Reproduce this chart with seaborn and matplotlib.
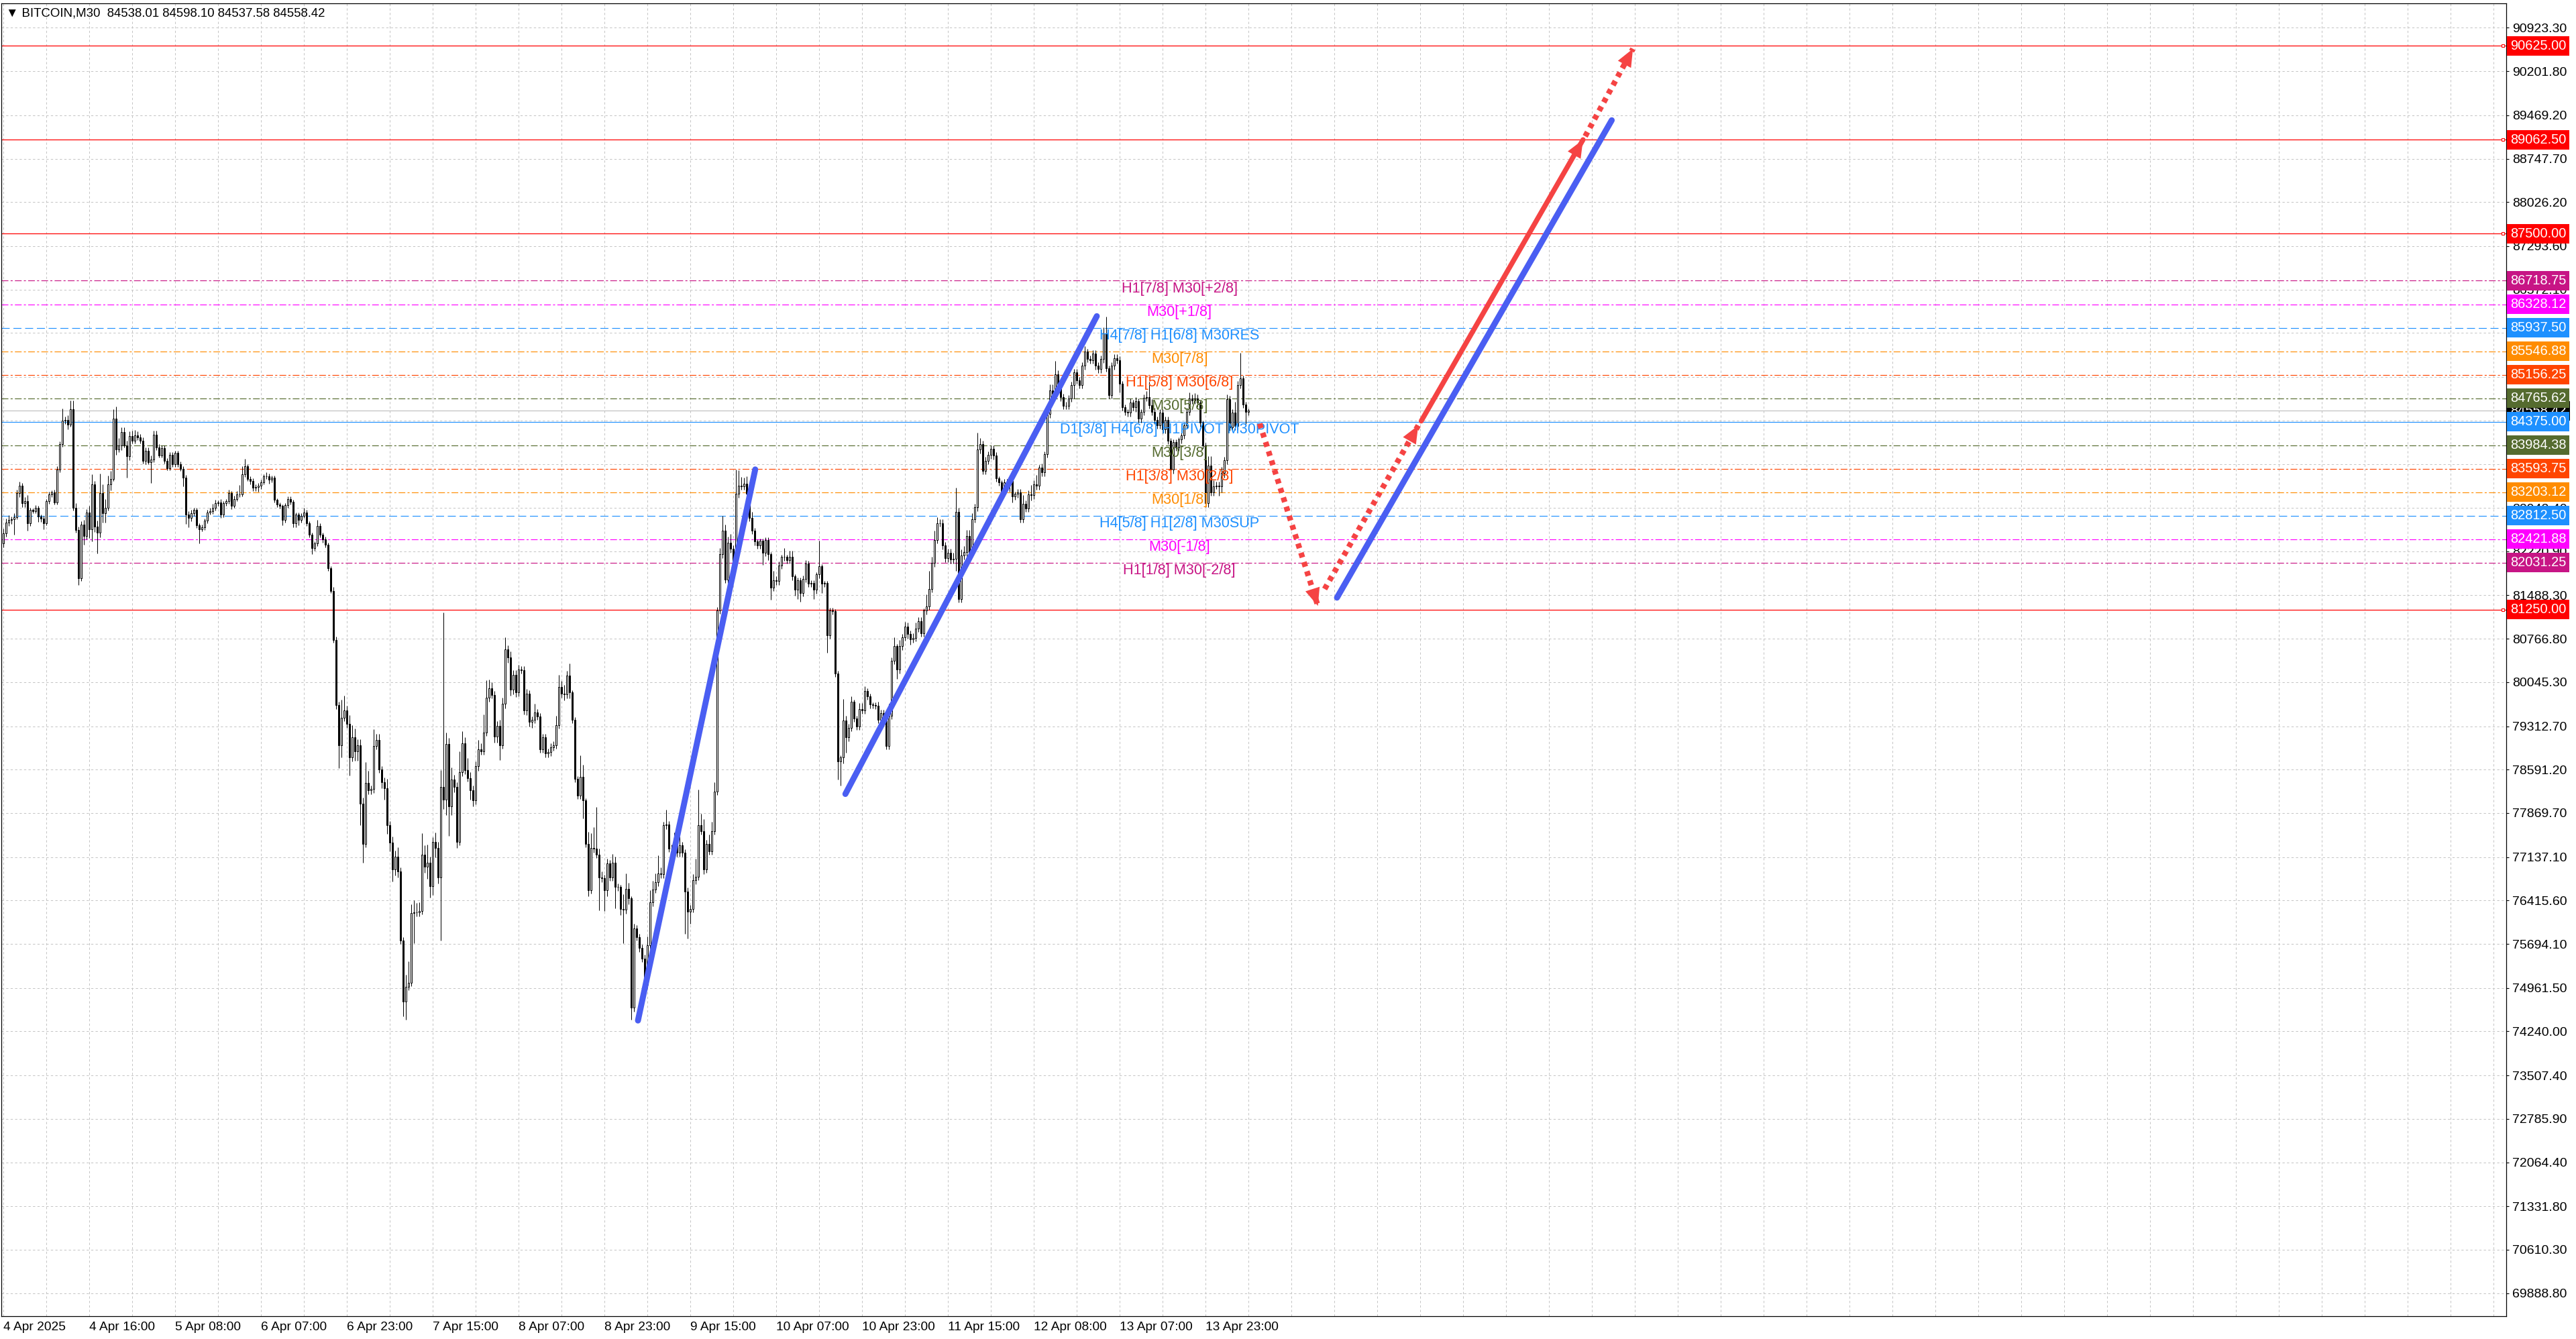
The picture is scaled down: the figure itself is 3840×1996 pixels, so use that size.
import numpy as np
import pandas as pd
import matplotlib
matplotlib.use("Agg")
import matplotlib.pyplot as plt
import matplotlib.transforms as mtransforms
import seaborn as sns

# ---- data ----
header = "\u25bc BITCOIN,M30  84538.01 84598.10 84537.58 84558.42"

first_open = 82350
closes = [
    82520, 82700, 82740, 82750, 82790, 83185, 83315, 83017, 83060, 82682,
    82906, 82890, 82943, 82794, 82770, 82690, 83054, 83166, 83200, 83036,
    83575, 84003, 84393, 84400, 84330, 84580, 82943, 82571, 81771, 82664,
    82478, 82861, 82589, 83333, 82627, 82533, 83185, 82850, 82943, 83333,
    83426, 84431, 83910, 83984, 84207, 83984, 83798, 84133, 84059, 84152,
    84115, 84059, 83724, 83891, 83705, 83743, 84163, 83947, 83817, 83940,
    83724, 83605, 83828, 83668, 83854, 83668, 83593, 83445, 82831, 82775,
    82850, 82906, 82652, 82589, 82620, 82727, 82868, 82885, 82943, 83017,
    83030, 82831, 83017, 83054, 83185, 82980, 83092, 83166, 83170, 83500,
    83631, 83426, 83389, 83277, 83290, 83315, 83371, 83463, 83470, 83410,
    83440, 83073, 82999, 82973, 82738, 82987, 83092, 83040, 82682, 82831,
    82738, 82812, 82868, 82682, 82496, 82273, 82348, 82645, 82496, 82420,
    82329, 81938, 81566, 80746, 79663, 78999, 79453, 79572, 79348, 78790,
    79125, 78894, 78999, 78021, 77357, 78371, 78245, 78266, 78985, 79083,
    78594, 78384, 78287, 77672, 77378, 76937, 77147, 76903, 75750, 74738,
    74982, 75052, 76205, 76220, 76215, 76240, 77183, 76973, 77043, 76659,
    77393, 77288, 76799, 78301, 78091, 79013, 77986, 78427, 78300, 77393,
    78545, 79034, 78580, 78454, 78245, 78077, 78650, 78930, 78900, 79209,
    79782, 79942, 79837, 79139, 79314, 78999, 79684, 80592, 80452, 79922,
    80166, 79873, 80257, 80250, 79572, 79852, 79384, 79419, 79537, 79474,
    78930, 79125, 78860, 78880, 78965, 79000, 79335, 79963, 79852, 79840,
    80152, 79873, 79419, 78440, 78161, 78475, 78077, 77357, 76589, 77288,
    77274, 77183, 76799, 76785, 76589, 77029, 76799, 77043, 76638, 76640,
    76275, 76260, 76610, 76450, 74633, 75950, 75806, 75623, 75452, 75014,
    75672, 76384, 76597, 76718, 76871, 76850, 77663, 77680, 77279, 77280,
    77450, 77206, 77330, 77206, 76567, 76232, 76280, 76750, 76810, 77663,
    77571, 76932, 77358, 77236, 77571, 78229, 81238, 82170, 82565, 81755,
    82364, 82260, 82047, 83174, 83308, 83300, 83345, 83174, 82779, 82565,
    82383, 82322, 82395, 82200, 82413, 82169, 81621, 81743, 81725, 81987,
    82127, 82127, 82078, 82127, 81804, 81579, 81743, 81530, 81761, 82017,
    81682, 81694, 81579, 81834, 81969, 81682, 81690, 80830, 81238, 81225,
    80190, 78729, 78790, 79411, 79124, 79289, 79715, 79447, 79307, 79593,
    79580, 79898, 79812, 79672, 79670, 79655, 79422, 79530, 79433, 78990,
    79488, 80402, 80641, 80252, 80641, 80790, 80973, 80846, 80763, 80780,
    80940, 81062, 80862, 81233, 81305, 81593, 82026, 82413, 82690, 82690,
    82314, 82103, 82200, 82081, 82092, 82879, 81427, 82147, 82203, 82480,
    82175, 82757, 82951, 83909, 84003, 83560, 83726, 83820, 83920, 83809,
    83433, 83366, 83189, 83366, 83310, 83400, 83134, 83173, 83200, 82757,
    83006, 82934, 83172, 83150, 83339, 83310, 83616, 83532, 83837, 84502,
    84890, 84835, 85167, 85001, 84779, 84640, 84640, 84762, 84984, 85193,
    85063, 84989, 85305, 85547, 85420, 85398, 85509, 85305, 85249, 85417,
    85844, 85268, 84821, 85305, 85435, 85400, 85007, 84617, 84542, 84524,
    84698, 84617, 84721, 84423, 84542, 84773, 84785, 84650, 84542, 84400,
    84319, 84524, 84245, 84400, 84059, 83575, 84040, 83947, 84077, 84150,
    84319, 84542, 84765, 84728, 84765, 84691, 84356, 83984, 83017, 83650,
    83200, 83296, 83315, 83296, 83520, 83731, 84747, 84282, 84524, 84300,
    84989, 85101, 84662, 84543, 84558,
]

# upper / lower shadow lengths (USD) per candle
wick_up = [
    80, 60, 80, 50, 60, 60, 60, 40, 60, 100,
    40, 30, 40, 30, 40, 40, 40, 40, 30, 40,
    60, 40, 200, 60, 80, 150, 150, 80, 60, 60,
    80, 60, 120, 170, 60, 100, 330, 150, 150, 150,
    130, 150, 200, 120, 80, 80, 80, 80, 90, 80,
    60, 60, 60, 60, 60, 70, 60, 60, 60, 40,
    40, 40, 40, 40, 40, 40, 40, 40, 40, 60,
    60, 40, 40, 40, 40, 40, 40, 60, 70, 60,
    40, 60, 40, 40, 60, 40, 50, 60, 150, 130,
    130, 40, 40, 40, 40, 40, 40, 40, 60, 40,
    40, 40, 30, 30, 30, 40, 40, 40, 40, 40,
    40, 40, 80, 40, 40, 40, 40, 100, 40, 40,
    40, 40, 40,
    60, 60, 60, 300, 250, 80, 150, 200, 150, 100,
    100, 100, 350, 200, 60, 280, 100, 100, 60, 80,
    150, 60, 100, 100, 150, 60, 60, 200, 350, 150,
    200, 150, 150, 350, 150, 300, 100, 80, 150, 100,
    280, 2900, 200, 100, 200, 80, 80, 350, 200, 100,
    200, 100, 80, 80, 150, 100, 300, 300, 150, 100,
    60, 80, 100, 100, 200, 60, 100, 80, 80, 80,
    50, 60, 80, 60, 60, 150, 60, 60, 60, 60,
    60, 60, 60, 150, 200, 100, 150, 80, 200, 40,
    40, 40, 350, 200, 40, 200, 250, 350, 700, 100,
    100, 60, 80, 60, 150, 100, 60, 40, 250, 250,
    100, 40,
    80, 60, 60, 60, 60, 150, 200, 150, 150, 300,
    100, 60, 250, 60, 60, 100, 80, 150, 60, 60,
    60, 60, 100, 300, 600, 200, 200, 60, 150, 150,
    150, 60, 100, 250, 100, 100, 150, 60, 400, 260,
    150, 100, 120, 100, 100, 40, 40, 40, 40, 40,
    40, 40, 150, 60, 60, 40, 150, 40, 100, 100,
    40, 40, 40, 60, 60, 40, 40, 40, 40, 425,
    40, 40, 40, 40, 40, 40, 40, 40, 350, 80,
    60, 100, 40, 40, 100, 100, 80, 40, 40,
    40, 40, 60, 60, 60, 40, 200, 60, 150, 40,
    100, 60, 80, 60, 60, 80, 100, 60, 60, 40,
    200, 300, 100, 150, 100, 60, 60, 60, 60, 60,
    100, 400, 60, 100, 100, 100, 100, 100, 60, 280,
    100, 60, 60, 60, 60, 60, 60, 40, 40, 60,
    60, 60, 40, 40, 60, 60, 150, 60, 60, 150,
    60, 150, 40, 60, 40, 40, 100, 100, 220, 60,
    100, 60, 60, 60, 60,
    60, 60, 60, 60, 80, 40, 60, 60, 60, 60,
    60, 100, 280, 40, 60, 60, 60, 60, 40, 40,
    40, 60, 40, 60, 40, 40, 60, 100, 250, 100,
    60, 60, 60, 60, 60, 60, 40, 40, 40, 40,
    150, 40, 60, 100, 60, 80, 60, 40, 40, 40,
    150, 150, 100, 60, 60, 100, 60, 80, 60, 60,
    180, 60, 415, 40, 40, 40,
]
wick_dn = [
    60, 60, 60, 60, 250, 40, 60, 60, 60, 120,
    40, 40, 40, 80, 60, 100, 40, 40, 40, 40,
    40, 40, 40, 60, 80, 40, 40, 40, 110, 40,
    150, 60, 150, 200, 80, 350, 80, 150, 150, 40,
    100, 40, 80, 40, 80, 40, 350, 60, 40, 40,
    40, 40, 40, 60, 40, 350, 40, 40, 40, 40,
    40, 40, 40, 40, 40, 40, 40, 150, 150, 150,
    60, 40, 40, 240, 40, 40, 40, 40, 40, 40,
    40, 60, 40, 40, 40, 60, 40, 40, 40, 40,
    40, 40, 60, 60, 60, 80, 60, 40, 40, 60,
    40, 40, 40, 40, 80, 40, 40, 40, 60, 60,
    80, 40, 40, 40, 40, 100, 40, 40, 40, 60,
    40, 40, 40,
    40, 60, 380, 200, 60, 60, 300, 60, 150, 150,
    350, 310, 60, 60, 60, 60, 60, 60, 100, 200,
    150, 150, 200, 100, 100, 60, 245, 300, 60, 60,
    500, 60, 60, 60, 100, 200, 200, 150, 150, 100,
    1050, 150, 250, 500, 150, 80, 100, 60, 60, 60,
    60, 150, 100, 60, 80, 60, 60, 60, 60, 60,
    100, 100, 250, 60, 80, 80, 100, 80, 80, 60,
    60, 60, 80, 80, 100, 60, 60, 60, 60, 60,
    60, 60, 60, 60, 60, 60, 100, 60, 100, 60,
    60, 60, 60, 300, 60, 100, 60, 60, 60, 550,
    60, 350, 100, 60, 60, 350, 60, 100, 550, 60,
    100, 200,
    60, 60, 60, 60, 120, 60, 60, 60, 60, 60,
    60, 60, 60, 60, 60, 60, 60, 60, 60, 700,
    450, 200, 60, 60, 60, 60, 80, 60, 60, 60,
    60, 60, 60, 60, 60, 60, 60, 60, 60, 60,
    60, 60, 60, 60, 60, 60, 60, 60, 200, 60,
    100, 200, 60, 60, 60, 60, 60, 60, 60, 60,
    100, 150, 150, 60, 60, 60, 60, 150, 60, 60,
    150, 60, 300, 60, 60, 60, 300, 400, 100, 250,
    60, 60, 60, 60, 60, 60, 60, 60, 60,
    60, 60, 60, 60, 60, 60, 60, 60, 60, 150,
    60, 60, 60, 80, 100, 60, 60, 60, 60, 60,
    60, 60, 60, 60, 60, 60, 60, 60, 60, 60,
    60, 200, 60, 60, 60, 60, 110, 60, 60, 60,
    60, 60, 60, 60, 60, 60, 60, 60, 60, 60,
    60, 100, 100, 60, 60, 60, 60, 60, 60, 80,
    60, 60, 60, 60, 60, 60, 60, 60, 60, 60,
    60, 60, 60, 60, 60, 220, 60, 60, 60,
    60, 60, 60, 60, 60, 60, 60, 60, 60, 60,
    60, 60, 60, 150, 60, 60, 60, 60, 60, 80,
    60, 60, 60, 60, 60, 60, 60, 60, 60, 60,
    60, 60, 60, 60, 60, 60, 60, 60, 60, 60,
    60, 60, 60, 60, 60, 60, 60, 60, 60, 40,
    150, 100, 80, 60, 60, 60, 60, 60, 60, 60,
    200, 60, 60, 150, 60, 40,
]

x_labels = ["4 Apr 2025", "4 Apr 16:00", "5 Apr 08:00", "6 Apr 07:00", "6 Apr 23:00",
            "7 Apr 15:00", "8 Apr 07:00", "8 Apr 23:00", "9 Apr 15:00", "10 Apr 07:00",
            "10 Apr 23:00", "11 Apr 15:00", "12 Apr 08:00", "13 Apr 07:00", "13 Apr 23:00"]

y_ticks = [90923.30, 90201.80, 89469.20, 88747.70, 88026.20, 87293.60, 86572.10,
           85850.60, 85118.00, 84396.50, 83663.90, 82942.40, 82220.90, 81488.30,
           80766.80, 80045.30, 79312.70, 78591.20, 77869.70, 77137.10, 76415.60,
           75694.10, 74961.50, 74240.00, 73507.40, 72785.90, 72064.40, 71331.80,
           70610.30, 69888.80]
# tick labels that sit completely under a level box in the picture
y_ticks_covered = [85850.60, 85118.00, 84396.50]

# Murrey math levels
level_prices = [86718.75, 86328.12, 85937.50, 85546.88, 85156.25, 84765.62, 84375.00,
                83984.38, 83593.75, 83203.12, 82812.50, 82421.88, 82031.25]
level_names = ["H1[7/8] M30[+2/8]", "M30[+1/8]", "H4[7/8] H1[6/8] M30RES", "M30[7/8]",
               "H1[5/8] M30[6/8]", "M30[5/8]", "D1[3/8] H4[6/8] H1PIVOT M30PIVOT",
               "M30[3/8]", "H1[3/8] M30[2/8]", "M30[1/8]", "H4[5/8] H1[2/8] M30SUP",
               "M30[-1/8]", "H1[1/8] M30[-2/8]"]
level_colors = ["#C71585", "#FF00FF", "#1E90FF", "#FF8C00", "#FF4500", "#556B2F", "#1E90FF",
                "#556B2F", "#FF4500", "#FF8C00", "#1E90FF", "#FF00FF", "#C71585"]
level_kind = ["dashdot", "dashdot", "dash", "dashdot", "dashdot", "dashdot", "solid",
              "dashdot", "dashdot", "dashdot", "dash", "dashdot", "dashdot"]

red_levels = [90625.00, 89062.50, 87500.00, 81250.00]
last_price = 84558.42

# trend lines (bar index, price)
trend_x = [[236.5, 280.2], [313.8, 407.5], [497.0, 599.4]]
trend_y = [[74420, 83582], [78186, 86130], [81450, 89387]]

# forecast arrows (bar index, price)
fc_x = [[468.2, 489.9], [492.4, 527.3], [528.4, 588.7], [589.5, 607.3]]
fc_y = [[84344, 81313], [81594, 84313], [84387, 89063], [89120, 90575]]
fc_dotted = [True, True, False, True]

# ---- style ----
sns.set_theme(style="white")
plt.rcParams["font.family"] = ["Liberation Sans", "DejaVu Sans"]
plt.rcParams["lines.scale_dashes"] = False

W, H = 3840, 1996
fig = plt.figure(figsize=(19.2, 9.98), dpi=200)
fig.patch.set_facecolor("white")
ax = fig.add_axes([2 / W, 1 - 1962 / H, (3736 - 2) / W, (1962 - 5) / H])
ax.set_facecolor("white")

blue = "#4A5EF2"
red = "#F54343"
grid_c = "#C4C4C4"

ax.set_xlim(-0.75, 932.75)
ax.set_ylim(69505, 91330)

# grid
ax.set_xticks(np.arange(len(x_labels)) * 32)
ax.set_xticklabels(x_labels)
ax.set_xticks(np.arange(0, 933, 16), minor=True)
ax.set_yticks(y_ticks)
ax.set_yticklabels(["" if v in y_ticks_covered else f"{v:.2f}" for v in y_ticks])
ax.yaxis.tick_right()
ax.grid(True, which="both", axis="x", color=grid_c, lw=0.36, linestyle=(0, (1.2, 1.2)))
ax.grid(True, which="major", axis="y", color=grid_c, lw=0.36, linestyle=(0, (1.2, 1.2)))
ax.set_axisbelow(True)
ax.tick_params(axis="x", which="major", length=1.6, width=0.4, pad=1.2, labelsize=6.9,
               colors="black", direction="out")
ax.tick_params(axis="x", which="minor", length=0)
ax.tick_params(axis="y", length=1.3, width=0.4, pad=1.9, labelsize=7.0, colors="black",
               direction="out")
for lab in ax.get_xticklabels():
    lab.set_horizontalalignment("left")
for s in ax.spines.values():
    s.set_color("black")
    s.set_linewidth(0.45)
    s.set_visible(True)

# horizontal levels
dash_styles = {"dashdot": (0, (3.6, 1.2, 1.1, 1.2)), "dash": (0, (4.3, 2.0)), "solid": "-"}
for p, c, k in zip(level_prices, level_colors, level_kind):
    ax.axhline(p, color=c, lw=0.42, linestyle=dash_styles[k], zorder=2)
ax.axhline(last_price, color="#C0C0C0", lw=0.42, zorder=2)
for p in red_levels:
    ax.axhline(p, color="red", lw=0.45, zorder=2)
ax.plot([ax.get_xlim()[1] - 1.2] * len(red_levels), red_levels, "s", ms=1.6, mfc="white",
        mec="red", mew=0.4, zorder=3, clip_on=False)

# candles
c = np.array(closes[: len(wick_up)], dtype=float)
n = min(len(c), len(wick_up), len(wick_dn))
c = c[:n]
o = np.r_[first_open, c[:-1]]
idx = np.arange(n)
b_lo = np.minimum(o, c)
b_hi = np.maximum(o, c)
hi = b_hi + np.array(wick_up[:n])
lo = b_lo - np.array(wick_dn[:n])
ax.vlines(idx, lo, hi, color="black", lw=0.36, zorder=4)
ax.bar(idx, b_hi - b_lo, bottom=b_lo, width=0.5, color=np.where(c >= o, "white", "black"),
       edgecolor="black", linewidth=0.36, zorder=5)

# level names on the chart
for p, name, col in zip(level_prices, level_names, level_colors):
    ax.annotate(name, xy=(438.3, p), xytext=(0, -0.6), textcoords="offset points",
                ha="center", va="top", fontsize=7.8, color=col, zorder=6)

# trend lines
for tx, ty in zip(trend_x, trend_y):
    sns.lineplot(x=tx, y=ty, ax=ax, color=blue, lw=3.2, solid_capstyle="round",
                 estimator=None, sort=False, zorder=7)

# forecast arrows
for fx, fy, dotted in zip(fc_x, fc_y, fc_dotted):
    if dotted:
        ax.plot(fx, fy, color=red, lw=3.0, linestyle=(0, (2.6, 2.6)),
                dash_capstyle="butt", zorder=8)
    else:
        ax.plot(fx, fy, color=red, lw=2.7, solid_capstyle="round", zorder=8)
    ax.annotate("", xy=(fx[1], fy[1]), xytext=(fx[0], fy[0]),
                arrowprops=dict(arrowstyle="-|>,head_length=0.95,head_width=0.4",
                                mutation_scale=10, color=red, lw=0, shrinkA=0, shrinkB=0),
                zorder=9)

# price boxes on the right scale (current price first so the others sit on top)
trans = mtransforms.blended_transform_factory(ax.transAxes, ax.transData)
box_prices = [last_price] + red_levels + level_prices
box_colors = ["black"] + ["#FF0000"] * len(red_levels) + level_colors
for k, (p, col) in enumerate(zip(box_prices, box_colors)):
    ax.text(1.0016, p, f"{p:.2f}", transform=trans, ha="left", va="center",
            fontsize=7.2, color="white", clip_on=False, zorder=20 + k,
            bbox=dict(boxstyle="square,pad=0.25", fc=col, ec="none"))

# header
ax.text(0.0019, 0.9925, header, transform=ax.transAxes, ha="left", va="center",
        fontsize=6.7, color="black", zorder=20,
        family=["Liberation Sans", "DejaVu Sans"])

ax.set_xlabel("")
ax.set_ylabel("")
legend = ax.get_legend()
if legend is not None:
    legend.remove()

fig.savefig("out.png", dpi=200, facecolor="white")
